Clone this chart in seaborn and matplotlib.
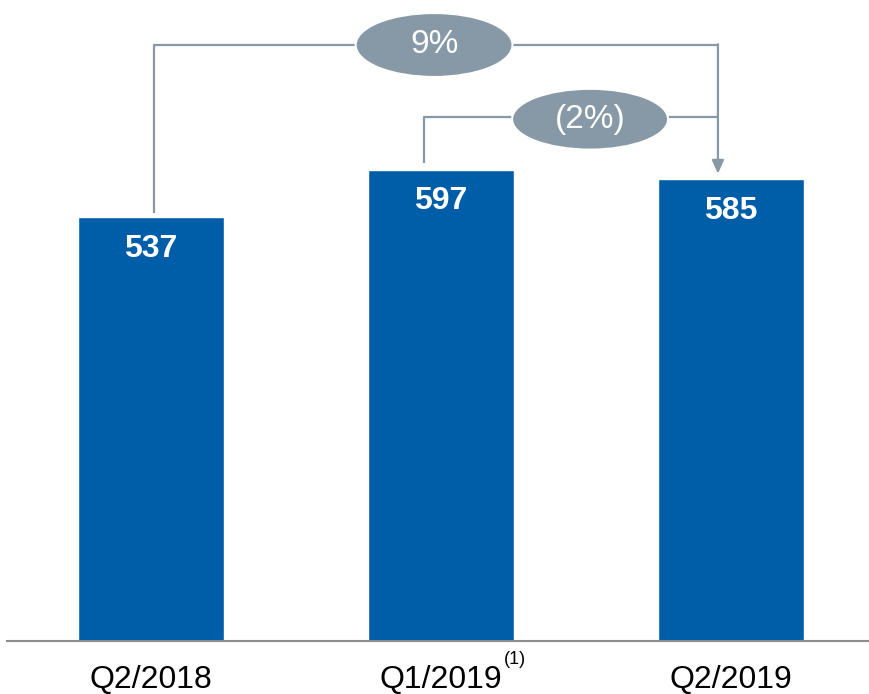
import matplotlib
matplotlib.use("Agg")
import matplotlib.pyplot as plt
import matplotlib.transforms as mtransforms
from matplotlib.patches import Ellipse
import seaborn as sns

# data
quarters = ["Q2/2018", "Q1/2019", "Q2/2019"]
values = [537, 597, 585]
changes = ["9%", "(2%)"]

bar_blue = "#005EA8"
bracket_grey = "#8799A6"

sns.set_style("white")
plt.rcParams["font.family"] = ["Liberation Sans", "DejaVu Sans"]

fig = plt.figure(figsize=(8.69, 6.94), dpi=100)
ax = fig.add_axes([7 / 869, 53 / 694, 862 / 869, 641 / 694])

sns.barplot(x=quarters, y=values, color=bar_blue, saturation=1, width=0.503, ax=ax)

ax.set_xlim(-0.497, 2.476)
ax.set_ylim(0, 812)

# value labels inside bars
for i, v in enumerate(values):
    ax.text(i, v - 40, str(v), ha="center", va="center", color="white",
            fontsize=23, fontweight="bold")

# 9% bracket: Q2/2018 -> Q2/2019
lw = 1.6
ax.plot([0.01, 0.01, 1.955], [542, 755, 755], color=bracket_grey, lw=lw,
        solid_capstyle="butt", zorder=3)
ax.annotate("", xy=(1.955, 592), xytext=(1.955, 756),
            arrowprops=dict(arrowstyle="-|>,head_length=0.8,head_width=0.36",
                            color=bracket_grey, lw=lw, shrinkA=0, shrinkB=0),
            zorder=3)
ax.add_patch(Ellipse((0.976, 755), 0.541, 81, facecolor=bracket_grey,
                     edgecolor="white", lw=1.5, zorder=4))
ax.text(0.976, 755, changes[0], ha="center", va="center", color="white",
        fontsize=24, zorder=5)

# (2%) bracket: Q1/2019 -> Q2/2019
ax.plot([0.94, 0.94, 1.955], [605, 664, 664], color=bracket_grey, lw=lw,
        solid_capstyle="butt", zorder=3)
ax.add_patch(Ellipse((1.514, 661), 0.538, 77, facecolor=bracket_grey,
                     edgecolor="white", lw=1.5, zorder=4))
ax.text(1.514, 661, changes[1], ha="center", va="center", color="white",
        fontsize=24, zorder=5)

# axes styling
for side in ["top", "right", "left"]:
    ax.spines[side].set_visible(False)
ax.spines["bottom"].set_color("#8C8C8C")
ax.spines["bottom"].set_linewidth(1.5)
ax.set_yticks([])
ax.tick_params(axis="x", length=0, pad=17, labelsize=23, labelcolor="black")
ax.set_xlabel("")
ax.set_ylabel("")

# footnote marker on the middle label
trans = mtransforms.blended_transform_factory(ax.transData, ax.transAxes)
ax.text(1.217, -0.029, "(1)", transform=trans, ha="left", va="center",
        fontsize=13, color="black", clip_on=False)

fig.savefig("out.png", dpi=100)
